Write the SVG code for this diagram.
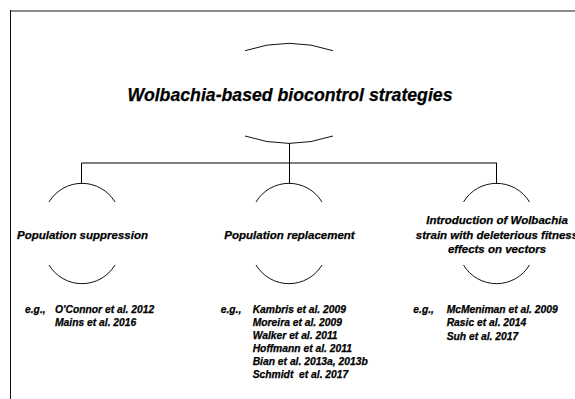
<svg xmlns="http://www.w3.org/2000/svg" width="575" height="399" viewBox="0 0 575 399">
<style>
.ln{fill:none;stroke:#000;stroke-width:1}
.arc{fill:none;stroke:#111;stroke-width:1}
text{font-family:"Liberation Sans",Arial,sans-serif;font-weight:bold;font-style:italic;fill:#000;stroke:#000;stroke-width:0.25}
.title{font-size:18.5px;text-anchor:middle}
.lbl{font-size:11.5px;text-anchor:middle}
.ref{font-size:10.3px;white-space:pre}
</style>
<rect width="575" height="399" fill="#fff"/>
<g id="frame">
<line x1="10" y1="11" x2="575" y2="11" stroke="#666" stroke-width="1.5"/>
<line x1="10.5" y1="10" x2="10.5" y2="399" stroke="#111" stroke-width="1"/>
</g>
<g id="connectors">
<line class="ln" x1="289.5" y1="143" x2="289.5" y2="184"/>
<line class="ln" x1="81.5" y1="163" x2="497" y2="163"/>
<line class="ln" x1="81.5" y1="163" x2="81.5" y2="184"/>
<line class="ln" x1="496.5" y1="163" x2="496.5" y2="184"/>
</g>
<g id="node-title">
<path class="arc" d="M245,50.7 Q289,35.9 333,50.7"/>
<path class="arc" d="M245,136 Q289,150.8 333,136"/>
<text class="title" x="290" y="101" textLength="325" lengthAdjust="spacingAndGlyphs">Wolbachia-based biocontrol strategies</text>
</g>
<g id="node-suppression">
<path class="arc" d="M49,202 A38.5,38.5 0 0 1 115,202"/>
<path class="arc" d="M49,265 A38.5,38.5 0 0 0 115,265"/>
<text class="lbl" x="82.5" y="239">Population suppression</text>
<text class="ref" x="25" y="313">e.g.,</text>
<text class="ref" x="55" y="313">O'Connor et al. 2012</text>
<text class="ref" x="55" y="326">Mains et al. 2016</text>
</g>
<g id="node-replacement">
<path class="arc" d="M256,202 A38.5,38.5 0 0 1 322,202"/>
<path class="arc" d="M256,265 A38.5,38.5 0 0 0 322,265"/>
<text class="lbl" x="289.5" y="239">Population replacement</text>
<text class="ref" x="220.7" y="312.5">e.g.,</text>
<text class="ref" x="252.7" y="312.5">Kambris et al. 2009</text>
<text class="ref" x="252.7" y="325.5">Moreira et al. 2009</text>
<text class="ref" x="252.7" y="338.5">Walker et al. 2011</text>
<text class="ref" x="252.7" y="351.5">Hoffmann et al. 2011</text>
<text class="ref" x="252.7" y="364.5">Bian et al. 2013a, 2013b</text>
<text class="ref" x="252.7" y="377.5">Schmidt  et al. 2017</text>
</g>
<g id="node-introduction">
<path class="arc" d="M463.5,202 A38.5,38.5 0 0 1 529.5,202"/>
<path class="arc" d="M463.5,265 A38.5,38.5 0 0 0 529.5,265"/>
<text class="lbl" x="497" y="224">Introduction of Wolbachia</text>
<text class="lbl" x="497" y="238.5">strain with deleterious fitness</text>
<text class="lbl" x="497" y="253">effects on vectors</text>
<text class="ref" x="413.3" y="312.5">e.g.,</text>
<text class="ref" x="446.7" y="312.5">McMeniman et al. 2009</text>
<text class="ref" x="446.7" y="326">Rasic et al. 2014</text>
<text class="ref" x="446.7" y="339.5">Suh et al. 2017</text>
</g>
</svg>
